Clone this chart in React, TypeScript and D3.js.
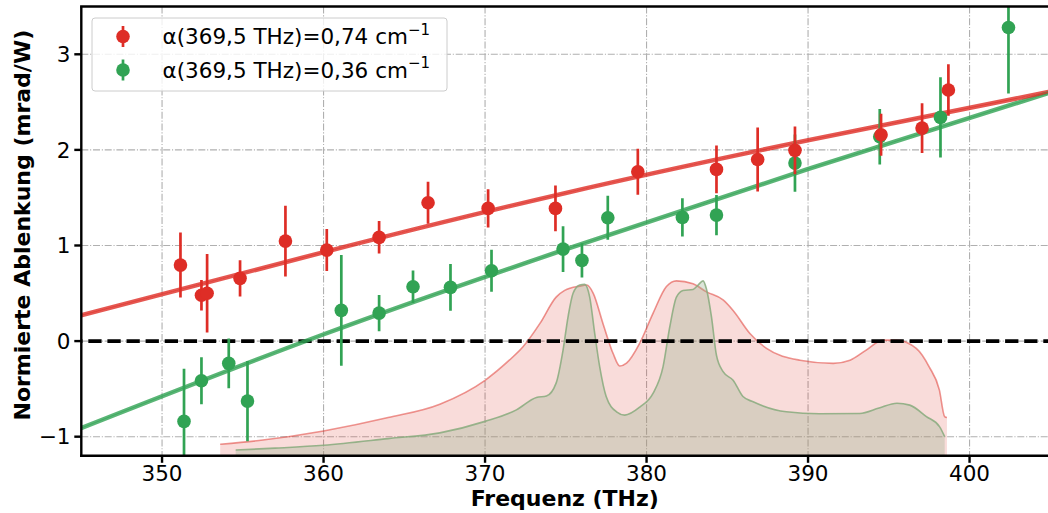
import React from "react";
import * as d3 from "d3";

// Measured deflection data (frequency in THz, value in mrad/W, symmetric error)
const redFreq = [351.14, 352.44, 352.79, 354.83, 357.64, 360.2, 363.44, 366.47, 370.19, 374.36, 379.46, 384.33, 386.88, 389.19, 394.52, 397.06, 398.69];
const redVal = [0.795, 0.48, 0.5, 0.656, 1.046, 0.952, 1.085, 1.447, 1.388, 1.388, 1.771, 1.796, 1.9, 1.995, 2.158, 2.228, 2.626];
const redErr = [0.34, 0.16, 0.41, 0.19, 0.37, 0.22, 0.17, 0.22, 0.2, 0.24, 0.24, 0.25, 0.335, 0.25, 0.22, 0.26, 0.27];

const greenFreq = [351.36, 352.44, 354.13, 355.29, 361.1, 363.44, 365.54, 367.86, 370.4, 374.83, 376.0, 377.6, 382.22, 384.33, 389.19, 394.44, 398.2, 402.41];
const greenVal = [-0.84, -0.415, -0.233, -0.628, 0.321, 0.293, 0.568, 0.562, 0.736, 0.962, 0.844, 1.29, 1.294, 1.318, 1.862, 2.137, 2.34, 3.28];
const greenErr = [0.55, 0.245, 0.26, 0.42, 0.58, 0.19, 0.17, 0.245, 0.22, 0.24, 0.18, 0.23, 0.2, 0.21, 0.3, 0.29, 0.42, 0.69];

// Fit curves
const fitFreq = [345, 360, 375, 390, 405];
const redFit = [0.27, 0.93, 1.55, 2.1, 2.61];
const greenFit = [-0.91, 0.07, 0.96, 1.8, 2.6];

// Spectra (scaled, drawn as filled areas)
const redSpecFreq = [353.6, 356, 360, 364, 367.2, 370, 371.5, 372.35, 373.4, 374.4, 374.93, 375.86, 376.3, 376.7, 377.3, 377.93, 378.34, 378.76, 379.58, 380.4, 381.23, 381.85, 382.88, 383.71, 384.74, 385.36, 386.4, 387.43, 389.5, 391.56, 392.6, 393.6, 394.63, 395.46, 396.7, 397.5, 398.13, 398.46, 398.6];
const redSpecVal = [-1.08, -1.04, -0.94, -0.8, -0.66, -0.41, -0.2, -0.06, 0.185, 0.46, 0.53, 0.575, 0.586, 0.5, 0.185, -0.13, -0.26, -0.23, -0.02, 0.29, 0.57, 0.63, 0.6, 0.515, 0.43, 0.32, 0.08, -0.077, -0.2, -0.233, -0.2, -0.094, 0.01, 0.01, -0.077, -0.27, -0.51, -0.79, -0.8];
const greenSpecFreq = [354.56, 357, 360, 364, 367.2, 370, 371.94, 373.18, 373.8, 374.4, 374.83, 375.14, 375.45, 375.86, 376.17, 376.48, 376.79, 377.1, 377.5, 378.14, 378.65, 379.58, 380.4, 381.02, 381.44, 381.85, 382.26, 382.88, 383.19, 383.5, 383.7, 384.02, 384.33, 384.74, 385.36, 385.97, 386.6, 388.66, 390.7, 393.2, 394.4, 395.5, 396.3, 397.33, 398.15, 398.46];
const greenSpecVal = [-1.14, -1.12, -1.09, -1.02, -0.96, -0.84, -0.72, -0.59, -0.575, -0.44, -0.094, 0.254, 0.5, 0.586, 0.593, 0.46, 0.08, -0.27, -0.58, -0.74, -0.774, -0.69, -0.547, -0.27, 0.15, 0.46, 0.53, 0.54, 0.586, 0.63, 0.55, 0.254, -0.15, -0.32, -0.41, -0.58, -0.635, -0.74, -0.76, -0.757, -0.7, -0.65, -0.67, -0.79, -0.897, -1.0];

const xTicks = [350, 360, 370, 380, 390, 400];
const yTicks = [-1, 0, 1, 2, 3];
const legendLabels = ["α(369,5 THz)=0,74 cm", "α(369,5 THz)=0,36 cm"];

const RED = "#de2d26";
const GREEN = "#31a354";
const FONT = "'DejaVu Sans', sans-serif";

export default function App() {
  const W = 1048, H = 513;
  const x = d3.scaleLinear().domain([345, 405]).range([81.3, 1050.3]);
  const y = d3.scaleLinear().domain([-1.2, 3.5]).range([455.8, 6.5]);
  const [x0, x1] = x.range();
  const [yb, yt] = y.range();

  const fitLine = d3.line<[number, number]>().x(d => x(d[0])).y(d => y(d[1])).curve(d3.curveNatural);
  const specArea = d3.area<[number, number]>().x(d => x(d[0])).y0(yb + 5).y1(d => y(d[1])).curve(d3.curveMonotoneX);
  const specLine = d3.line<[number, number]>().x(d => x(d[0])).y(d => y(d[1])).curve(d3.curveMonotoneX);

  const redSpec: [number, number][] = redSpecFreq.map((f, i) => [f, redSpecVal[i]]);
  const greenSpec: [number, number][] = greenSpecFreq.map((f, i) => [f, greenSpecVal[i]]);
  const redFitPts: [number, number][] = fitFreq.map((f, i) => [f, redFit[i]]);
  const greenFitPts: [number, number][] = fitFreq.map((f, i) => [f, greenFit[i]]);

  const errSeries = (fr: number[], v: number[], e: number[], c: string, key: string) => (
    <g key={key}>
      {fr.map((f, i) => (
        <g key={i}>
          <line x1={x(f)} x2={x(f)} y1={y(v[i] - e[i])} y2={y(v[i] + e[i])} stroke={c} strokeWidth={2.7} />
          <circle cx={x(f)} cy={y(v[i])} r={6.8} fill={c} />
        </g>
      ))}
    </g>
  );

  return (
    <svg width={W} height={H} style={{ position: "absolute", left: 0, top: 0 }} fontFamily={FONT}>
      <defs>
        <clipPath id="plotClip">
          <rect x={x0} y={yt} width={x1 - x0} height={yb - yt} />
        </clipPath>
      </defs>
      <rect x={0} y={0} width={W} height={H} fill="white" />
      {/* grid */}
      <g stroke="#b0b0b0" strokeWidth={1.1} strokeDasharray="7,1.8,1.1,1.8">
        {xTicks.map(t => <line key={"gx" + t} x1={x(t)} x2={x(t)} y1={yt} y2={yb} />)}
        {yTicks.map(t => <line key={"gy" + t} x1={x0} x2={x1} y1={y(t)} y2={y(t)} />)}
      </g>
      <g clipPath="url(#plotClip)">
        {/* spectra */}
        <path d={specArea(redSpec) || ""} fill={RED} fillOpacity={0.17} />
        <path d={specLine(redSpec) || ""} fill="none" stroke={RED} strokeOpacity={0.5} strokeWidth={1.6} />
        <path d={specArea(greenSpec) || ""} fill="rgb(150,178,140)" fillOpacity={0.32} />
        <path d={specLine(greenSpec) || ""} fill="none" stroke="rgb(135,170,125)" strokeOpacity={0.85} strokeWidth={1.6} />
        {/* zero line */}
        <line x1={x0} x2={x1} y1={y(0)} y2={y(0)} stroke="black" strokeWidth={3.6} strokeDasharray="13.3,5.8" strokeDashoffset={-7} />
        {/* fits */}
        {[-1, 1].map(o => (
          <g key={"fit" + o} transform={`translate(0,${o})`}>
            <path d={fitLine(redFitPts) || ""} fill="none" stroke={RED} strokeWidth={2.6} strokeOpacity={0.8} />
            <path d={fitLine(greenFitPts) || ""} fill="none" stroke={GREEN} strokeWidth={2.6} strokeOpacity={0.8} />
          </g>
        ))}
        {/* data */}
        {errSeries(greenFreq, greenVal, greenErr, GREEN, "g")}
        {errSeries(redFreq, redVal, redErr, RED, "r")}
      </g>
      {/* spines */}
      <g stroke="black" strokeWidth={2.4} fill="none">
        <line x1={x0} x2={x0} y1={yt} y2={yb + 1.2} />
        <line x1={x0 - 1.2} x2={x1} y1={yb} y2={yb} />
        <line x1={x0 - 1.2} x2={x1} y1={yt} y2={yt} />
        <line x1={x1} x2={x1} y1={yt} y2={yb} />
      </g>
      {/* ticks */}
      <g stroke="black" strokeWidth={2.4}>
        {xTicks.map(t => <line key={"tx" + t} x1={x(t)} x2={x(t)} y1={yb} y2={yb + 7} />)}
        {yTicks.map(t => <line key={"ty" + t} x1={x0} x2={x0 - 7} y1={y(t)} y2={y(t)} />)}
      </g>
      <g fontSize={21.5} fill="black">
        {xTicks.map(t => (
          <text key={"lx" + t} x={x(t)} y={481} textAnchor="middle">{t}</text>
        ))}
        {yTicks.map(t => (
          <text key={"ly" + t} x={70.5} y={y(t)} dy="0.36em" textAnchor="end">{t < 0 ? "\u2212" + Math.abs(t) : String(t)}</text>
        ))}
      </g>
      {/* axis labels */}
      <text x={(x0 + x1) / 2 - 1} y={505.5} textAnchor="middle" fontSize={22} fontWeight="bold">Frequenz (THz)</text>
      <text transform={`translate(29.5,${(yt + yb) / 2 - 6}) rotate(-90)`} textAnchor="middle" fontSize={22} fontWeight="bold">Normierte Ablenkung (mrad/W)</text>
      {/* legend */}
      <g>
        <rect x={92} y={18} width={355} height={73} rx={3} fill="white" fillOpacity={0.8} stroke="#cccccc" strokeWidth={1} />
        {[RED, GREEN].map((c, i) => {
          const cy = 36.5 + i * 33.5;
          return (
            <g key={"lg" + i}>
              <line x1={123} x2={123} y1={cy - 10.5} y2={cy + 10.5} stroke={c} strokeWidth={2.7} />
              <circle cx={123} cy={cy} r={6.8} fill={c} />
              <text x={162.5} y={cy + 7.5} fontSize={21.5}>
                {legendLabels[i]}
                <tspan fontSize={15} dy={-9.5}>{"\u22121"}</tspan>
              </text>
            </g>
          );
        })}
      </g>
    </svg>
  );
}
